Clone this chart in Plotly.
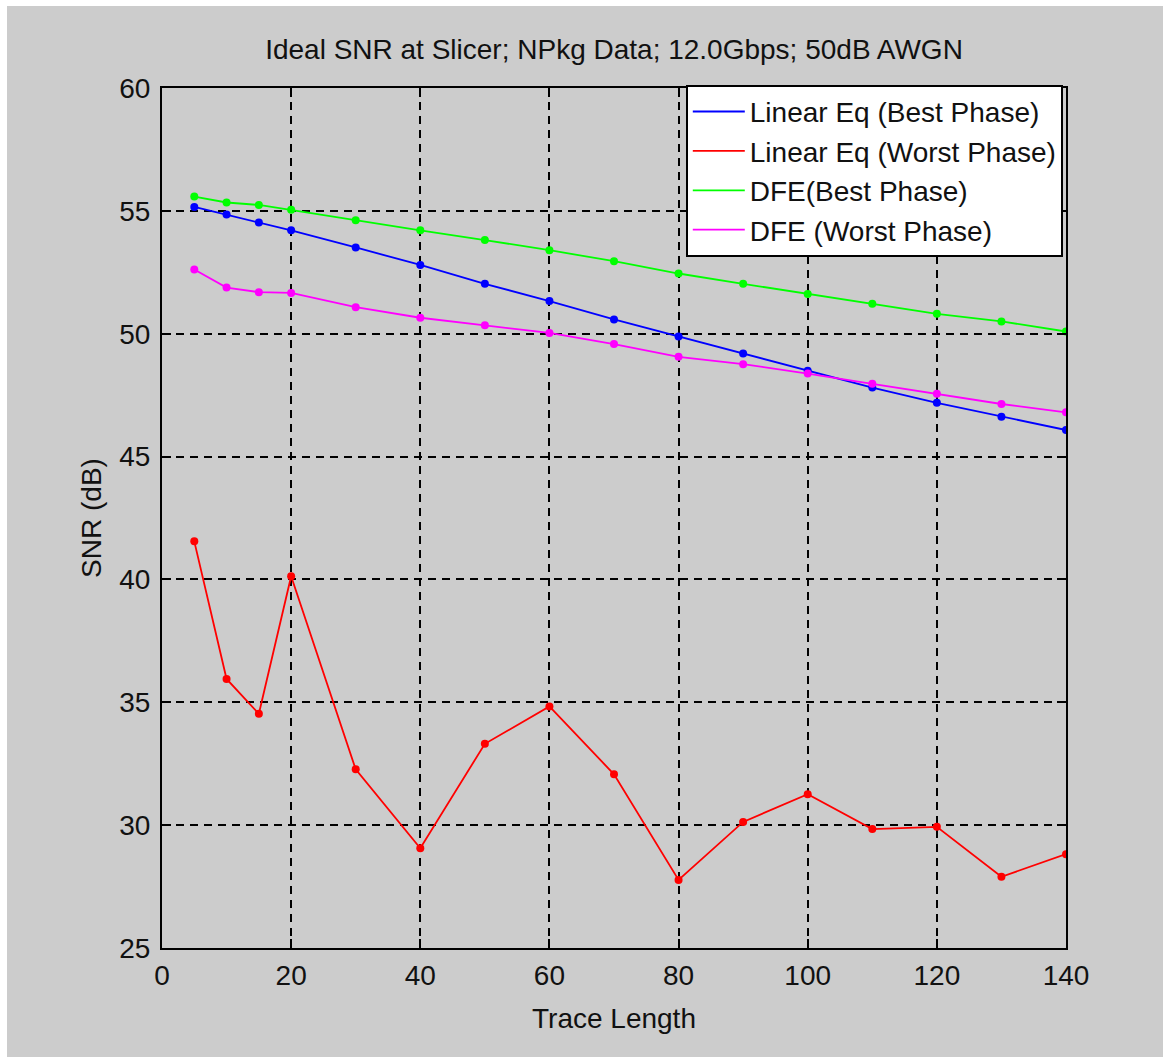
import plotly.graph_objects as go

# Trace lengths and ideal slicer SNR (dB) for each equaliser / sampling phase
trace_length = [5, 10, 15, 20, 30, 40, 50, 60, 70, 80, 90, 100, 110, 120, 130, 140]

lin_best = [55.16, 54.85, 54.53, 54.21, 53.51, 52.80, 52.03, 51.33,
            50.58, 49.89, 49.19, 48.49, 47.81, 47.19, 46.62, 46.08]
lin_worst = [41.55, 35.95, 34.53, 40.13, 32.27, 29.06, 33.31, 34.83,
             32.07, 27.77, 30.13, 31.26, 29.84, 29.93, 27.90, 28.82]
dfe_best = [55.58, 55.34, 55.24, 55.04, 54.62, 54.21, 53.81, 53.40,
            52.95, 52.45, 52.03, 51.62, 51.22, 50.81, 50.50, 50.09]
dfe_worst = [52.61, 51.88, 51.69, 51.66, 51.08, 50.65, 50.34, 50.03,
             49.58, 49.06, 48.76, 48.38, 47.96, 47.56, 47.14, 46.80]

series = [
    ("Linear Eq (Best Phase)", lin_best, "#0000ff"),
    ("Linear Eq (Worst Phase)", lin_worst, "#ff0000"),
    ("DFE(Best Phase)", dfe_best, "#00ff00"),
    ("DFE (Worst Phase)", dfe_worst, "#ff00ff"),
]

x_ticks = [0, 20, 40, 60, 80, 100, 120, 140]
y_ticks = [25, 30, 35, 40, 45, 50, 55, 60]

FONT = "Liberation Sans, Arial, Helvetica, sans-serif"
FSIZE = 28
TXT = "#111111"

fig = go.Figure()
for name, vals, color in series:
    # line shown in the legend (line only, like the classic plot legend)
    fig.add_trace(go.Scatter(
        x=trace_length, y=vals, name=name, mode="lines",
        line=dict(color=color, width=1.8), legendgroup=name,
    ))
    # small dot markers on each sample
    fig.add_trace(go.Scatter(
        x=trace_length, y=vals, name=name, mode="markers",
        marker=dict(color=color, size=8, symbol="circle"),
        legendgroup=name, showlegend=False,
    ))

W, H = 1163, 1057
L, R, T, B = 162, 1066, 88, 948
pw, ph = R - L, B - T

def px_x(p):
    return (p - L) / pw

def px_y(p):
    return (B - p) / ph

axis_common = dict(
    showline=True, linecolor="black", linewidth=2, mirror="allticks",
    ticks="inside", ticklen=9, tickwidth=1.8, tickcolor="black",
    showgrid=True, gridcolor="black", gridwidth=1.8, griddash="8px,6px",
    zeroline=False,
    tickfont=dict(family=FONT, size=FSIZE, color=TXT),
    title_font=dict(family=FONT, size=FSIZE, color=TXT),
)

fig.update_layout(
    width=W, height=H,
    margin=dict(l=L, r=W - R, t=T, b=H - B),
    paper_bgcolor="white",
    plot_bgcolor="white",
    font=dict(family=FONT, size=FSIZE, color=TXT),
    title=dict(
        text="Ideal SNR at Slicer; NPkg Data; 12.0Gbps; 50dB AWGN",
        x=0.5, xref="paper", xanchor="center",
        y=1 - 49 / H, yanchor="middle",
        font=dict(family=FONT, size=FSIZE, color=TXT),
    ),
    xaxis=dict(range=[0, 140], tickvals=x_ticks, title=dict(text="Trace Length", standoff=19),
               ticklabelstandoff=1, **axis_common),
    yaxis=dict(range=[25, 60], tickvals=y_ticks, title=dict(text="SNR (dB)", standoff=9),
               ticklabelstandoff=4, **axis_common),
    legend=dict(
        x=px_x(1063), y=px_y(85), xanchor="right", yanchor="top",
        bgcolor="white", bordercolor="black", borderwidth=1.8,
        font=dict(family=FONT, size=FSIZE, color=TXT),
        tracegroupgap=0, itemwidth=52,
    ),
    showlegend=True,
    shapes=[dict(
        type="rect", xref="paper", yref="paper", layer="below",
        x0=px_x(7), x1=px_x(W + 5), y0=px_y(6), y1=px_y(H + 5),
        fillcolor="#cccccc", line=dict(width=0),
    )],
)

fig.write_html("out.html")
